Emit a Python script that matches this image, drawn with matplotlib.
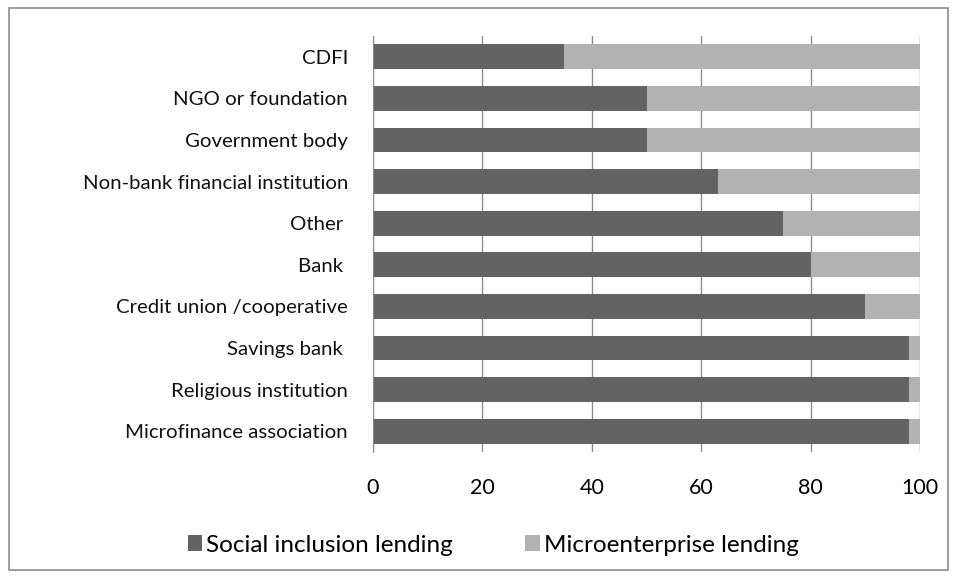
import matplotlib
matplotlib.use("Agg")
from matplotlib import pyplot as plt
from matplotlib.patches import Rectangle

categories = ["Microfinance association", "Religious institution", "Savings bank ",
              "Credit union /cooperative", "Bank ", "Other ",
              "Non-bank financial institution", "Government body",
              "NGO or foundation", "CDFI"]
social = [98, 98, 98, 90, 80, 75, 63, 50, 50, 35]
micro = [100 - v for v in social]
xticks = [0, 20, 40, 60, 80, 100]

dark = "#636363"
light = "#b2b2b2"
grid_col = "#8c8c8c"

plt.rcParams["font.family"] = ["Lato", "DejaVu Sans"]

fig = plt.figure(figsize=(9.57, 5.78), dpi=100)
ax = fig.add_axes([373 / 957, 1 - 452 / 578, (920 - 373) / 957, (452 - 36) / 578])

y = range(len(categories))
ax.barh(y, social, height=0.6, color=dark, label="Social inclusion lending", zorder=2)
ax.barh(y, micro, left=social, height=0.6, color=light, label="Microenterprise lending", zorder=2)

ax.set_xlim(0, 100)
ax.set_ylim(-0.5, len(categories) - 0.5)
ax.set_xticks(xticks)
ax.set_xticklabels([str(t) for t in xticks], fontsize=15.5)
ax.set_yticks(list(y))
ax.set_yticklabels(categories, fontsize=14.7, color="#111111")
ax.tick_params(axis="both", length=0)
ax.tick_params(axis="y", pad=18)
ax.tick_params(axis="x", pad=19)
ax.xaxis.grid(True, color=grid_col, linewidth=1, zorder=0)
ax.set_axisbelow(True)
for s in ["top", "right", "bottom"]:
    ax.spines[s].set_visible(False)
ax.spines["left"].set_color(grid_col)

fig.legend(loc="center", bbox_to_anchor=(493 / 957, 1 - 545 / 578), ncol=2, frameon=False,
           fontsize=17.5, handlelength=0.6, handleheight=0.6, handletextpad=0.15,
           columnspacing=3.0)

# outer chart frame
fig.patches.append(Rectangle((9 / 957, 8 / 578), 939 / 957, 562 / 578,
                             transform=fig.transFigure, fill=False,
                             edgecolor=grid_col, linewidth=1.2))

fig.savefig("out.png", dpi=100)
